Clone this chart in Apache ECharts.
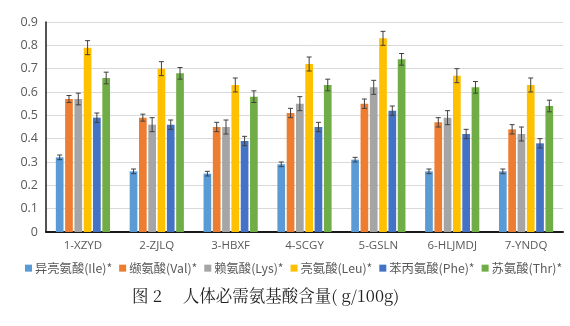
<!DOCTYPE html>
<html><head><meta charset="utf-8">
<script src="https://cdn.jsdelivr.net/npm/echarts@6/dist/echarts.min.js"></script>
<style>html,body{margin:0;padding:0;background:#fff}#c{width:570px;height:326px}</style>
</head><body><div id="c"></div>
<script>
const categories = ['1-XZYD','2-ZJLQ','3-HBXF','4-SCGY','5-GSLN','6-HLJMDJ','7-YNDQ'];
const seriesNames = ['异亮氨酸(Ile)*','缬氨酸(Val)*','赖氨酸(Lys)*','亮氨酸(Leu)*','苯丙氨酸(Phe)*','苏氨酸(Thr)*'];
const ile = [0.32,0.26,0.25,0.29,0.31,0.26,0.26];
const val = [0.57,0.49,0.45,0.51,0.55,0.47,0.44];
const lys = [0.57,0.46,0.45,0.55,0.62,0.49,0.42];
const leu = [0.79,0.70,0.63,0.72,0.83,0.67,0.63];
const phe = [0.49,0.46,0.39,0.45,0.52,0.42,0.38];
const thr = [0.66,0.68,0.58,0.63,0.74,0.62,0.54];
const ileErr = [0.01,0.01,0.01,0.01,0.01,0.01,0.01];
const valErr = [0.015,0.015,0.02,0.02,0.02,0.02,0.02];
const lysErr = [0.025,0.03,0.03,0.03,0.03,0.03,0.03];
const leuErr = [0.03,0.03,0.03,0.03,0.03,0.03,0.03];
const pheErr = [0.02,0.02,0.02,0.02,0.02,0.02,0.02];
const thrErr = [0.025,0.025,0.025,0.025,0.025,0.025,0.025];
const yTicks = ['0','0.1','0.2','0.3','0.4','0.5','0.6','0.7','0.8','0.9'];

const values = [ile,val,lys,leu,phe,thr];
const errs = [ileErr,valErr,lysErr,leuErr,pheErr,thrErr];
const colors = ['#5B9BD5','#ED7D31','#A5A5A5','#FFC000','#4472C4','#70AD47'];
const BW = 7.7, GAP = 1.6;

const series = [];
values.forEach((v,i)=>{
  series.push({type:'bar', name:seriesNames[i], data:v, barWidth:BW, barGap:(GAP/BW*100)+'%',
    itemStyle:{color:colors[i]}});
});
values.forEach((v,i)=>{
  series.push({type:'custom', name:seriesNames[i]+'_err', z:5, silent:true,
    data: v.map((d,k)=>[k, d-errs[i][k], d+errs[i][k]]),
    renderItem:function(params, api){
      const c = api.coord([api.value(0), api.value(2)]);
      const lo = api.coord([api.value(0), api.value(1)]);
      const off = (i-2.5)*(BW+GAP);
      const x = c[0]+off, hw = 2.5;
      const st = {stroke:'#404040', lineWidth:1};
      return {type:'group', children:[
        {type:'line', shape:{x1:x,y1:c[1],x2:x,y2:lo[1]}, style:st},
        {type:'line', shape:{x1:x-hw,y1:c[1],x2:x+hw,y2:c[1]}, style:st},
        {type:'line', shape:{x1:x-hw,y1:lo[1],x2:x+hw,y2:lo[1]}, style:st}
      ]};
    }});
});

const chart = echarts.init(document.getElementById('c'));
chart.setOption({
  animation:false,
  textStyle:{fontFamily:'"Open Sans","Noto Sans CJK SC",sans-serif'},
  grid:{left:46, right:7, top:22, bottom:94},
  legend:{data:seriesNames.map((n,i)=>({name:n, icon:'rect'})), left:25, width:560, top:262, padding:0,
    itemWidth:7, itemHeight:7, itemGap:7,
    textStyle:{fontSize:12.3, color:'#595959', fontFamily:'"Noto Sans CJK SC",sans-serif', padding:[0,0,0,-2]}},
  xAxis:{type:'category', data:categories,
    axisLine:{lineStyle:{color:'#1a1a1a', width:2}}, axisTick:{show:false},
    axisLabel:{color:'#595959', fontSize:11.5, margin:8}},
  yAxis:{type:'value', min:0, max:0.9, interval:0.1,
    axisLine:{show:true, lineStyle:{color:'#1a1a1a', width:1.5}}, axisTick:{show:false},
    axisLabel:{color:'#595959', fontSize:12.5, margin:8, formatter:(v)=>yTicks[Math.round(v*10)]},
    splitLine:{lineStyle:{color:'#d9d9d9', width:1}}},
  graphic:[{type:'text', left:132, top:287,
    style:{text:'图 2　 人体必需氨基酸含量( g/100g)', fontSize:16.5, fill:'#222', fontFamily:'"Noto Serif CJK SC","Noto Sans CJK SC",serif'}}],
  series: series
});
</script></body></html>
